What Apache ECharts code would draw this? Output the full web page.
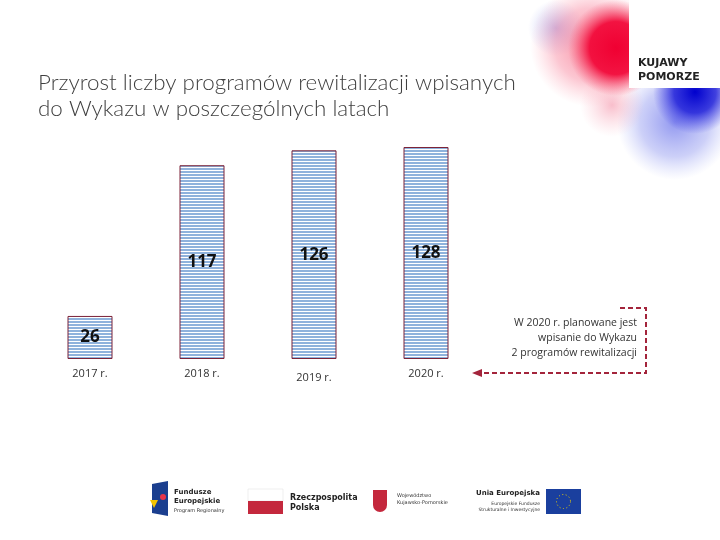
<!DOCTYPE html>
<html><head><meta charset="utf-8">
<script src="https://cdn.jsdelivr.net/npm/echarts@6/dist/echarts.min.js"></script>
<style>html,body{margin:0;padding:0;background:#fff}#c{width:720px;height:540px}</style>
</head><body><div id="c"></div>
<script>
const categories = ['2017 r.', '2018 r.', '2019 r.', '2020 r.'];
const values = [26, 117, 126, 128];
const titleLines = ['Przyrost liczby programów rewitalizacji wpisanych', 'do Wykazu w poszczególnych latach'];
const noteLines = ['W 2020 r. planowane jest', 'wpisanie do Wykazu', '2 programów rewitalizacji'];

const pc = document.createElement('canvas');
pc.width = 4; pc.height = 3;
const g = pc.getContext('2d');
g.fillStyle = '#ffffff'; g.fillRect(0,0,4,3);
g.fillStyle = '#8fb2dc'; g.fillRect(0,0,4,2);

function blob(cx, cy, r, stops, z) {
  return {type: 'circle', shape: {cx: cx, cy: cy, r: r}, z: z,
    style: {fill: {type: 'radial', x: 0.5, y: 0.5, r: 0.5, colorStops: stops.map(s => ({offset: s[0], color: s[1]}))}}};
}

const chart = echarts.init(document.getElementById('c'));
const red = '#a3243b';
chart.setOption({
  animation: false,
  backgroundColor: '#fff',
  grid: {left: 34, right: 238, top: 94, bottom: 181},
  xAxis: {
    type: 'category',
    data: categories.map((c, i) => i === 2 ? {value: c, textStyle: {padding: [4,0,0,0]}} : c),
    axisLine: {show: false}, axisTick: {show: false},
    axisLabel: {color: '#333', fontSize: 11, fontFamily: 'Open Sans', margin: 9}
  },
  yAxis: {type: 'value', min: 0, max: 160, show: false, splitLine: {show: false}},
  series: [{
    type: 'bar',
    data: values,
    barWidth: 45,
    itemStyle: {color: {image: pc, repeat: 'repeat'}, borderColor: '#7d2338', borderWidth: 1},
    label: {show: true, position: 'inside', color: '#111', fontSize: 17, fontWeight: 'bold', fontFamily: 'Open Sans'}
  }],
  graphic: [
    // top-right decorative blobs
    blob(675, 122, 58, [[0, 'rgba(70,80,230,0.6)'], [0.6, 'rgba(110,120,235,0.35)'], [1, 'rgba(150,160,245,0)']], -14),
    blob(695, 92, 42, [[0, 'rgba(0,0,205,1)'], [0.5, 'rgba(20,20,215,0.8)'], [1, 'rgba(60,60,230,0)']], -13),
    blob(556, 28, 28, [[0, 'rgba(110,120,225,0.45)'], [1, 'rgba(140,150,235,0)']], -13),
    blob(612, 105, 32, [[0, 'rgba(240,110,140,0.45)'], [1, 'rgba(250,160,180,0)']], -12),
    blob(592, 45, 62, [[0, 'rgba(245,90,120,0.75)'], [0.6, 'rgba(248,130,155,0.45)'], [1, 'rgba(255,170,185,0)']], -11),
    blob(616, 48, 48, [[0, 'rgba(240,0,50,1)'], [0.55, 'rgba(242,10,58,0.95)'], [1, 'rgba(248,90,120,0)']], -10),
    {type: 'rect', shape: {x: 629, y: 0, width: 91, height: 88}, style: {fill: '#fff'}, z: -5},
    {type: 'text', style: {x: 638, y: 56, text: 'KUJAWY\nPOMORZE', font: '600 11px "DejaVu Sans"', fill: '#222', lineHeight: 14}, z: 5},
    // title
    {type: 'text', style: {x: 38, y: 70, text: titleLines.join('\n'), font: '300 22.4px "Lato"', fill: '#404040', lineHeight: 26}},
    // note
    {type: 'text', style: {x: 637, y: 316, text: noteLines.join('\n'), font: '10.5px "Open Sans"', fill: '#333', align: 'right', lineHeight: 15}},
    {type: 'polyline', shape: {points: [[620, 308], [646, 308], [646, 373], [480, 373]]}, style: {stroke: red, lineWidth: 2, lineDash: [5, 3], fill: null}},
    {type: 'polygon', shape: {points: [[472, 373], [482, 369], [482, 377]]}, style: {fill: red}},
    // bottom logos
    {type: 'polygon', shape: {points: [[152, 484], [168, 481], [168, 516], [152, 513]]}, style: {fill: '#1b3f8f'}},
    {type: 'circle', shape: {cx: 163, cy: 497, r: 3}, style: {fill: '#e8354a'}},
    {type: 'polygon', shape: {points: [[150, 500], [158, 500], [154, 508]]}, style: {fill: '#f3c400'}},
    {type: 'text', style: {x: 174, y: 488, text: 'Fundusze\nEuropejskie', font: 'bold 7px "DejaVu Sans"', fill: '#222', lineHeight: 9}},
    {type: 'text', style: {x: 174, y: 508, text: 'Program Regionalny', font: '5px "DejaVu Sans"', fill: '#333'}},
    {type: 'rect', shape: {x: 248, y: 489, width: 35, height: 12}, style: {fill: '#fff', stroke: '#ddd', lineWidth: 0.5}},
    {type: 'rect', shape: {x: 248, y: 501, width: 35, height: 13}, style: {fill: '#c4283d'}},
    {type: 'text', style: {x: 290, y: 493, text: 'Rzeczpospolita\nPolska', font: 'bold 8px "DejaVu Sans"', fill: '#222', lineHeight: 10}},
    {type: 'rect', shape: {x: 373, y: 490, width: 14, height: 22, r: [0,0,7,7]}, style: {fill: '#c4283d'}},
    {type: 'text', style: {x: 397, y: 492, text: 'Województwo\nKujawsko-Pomorskie', font: '5px "DejaVu Sans"', fill: '#333', lineHeight: 7}},
    {type: 'text', style: {x: 540, y: 490, text: 'Unia Europejska', font: 'bold 7px "DejaVu Sans"', fill: '#222', align: 'right'}},
    {type: 'text', style: {x: 540, y: 501, text: 'Europejskie Fundusze\nStrukturalne i Inwestycyjne', font: '4.5px "DejaVu Sans"', fill: '#333', align: 'right', lineHeight: 6}},
    {type: 'rect', shape: {x: 546, y: 489, width: 35, height: 25}, style: {fill: '#1a3f9e'}},
    {type: 'circle', shape: {cx: 563.5, cy: 501.5, r: 7}, style: {fill: null, stroke: '#f5d400', lineWidth: 1, lineDash: [1, 2.5]}}
  ]
});
</script></body></html>
